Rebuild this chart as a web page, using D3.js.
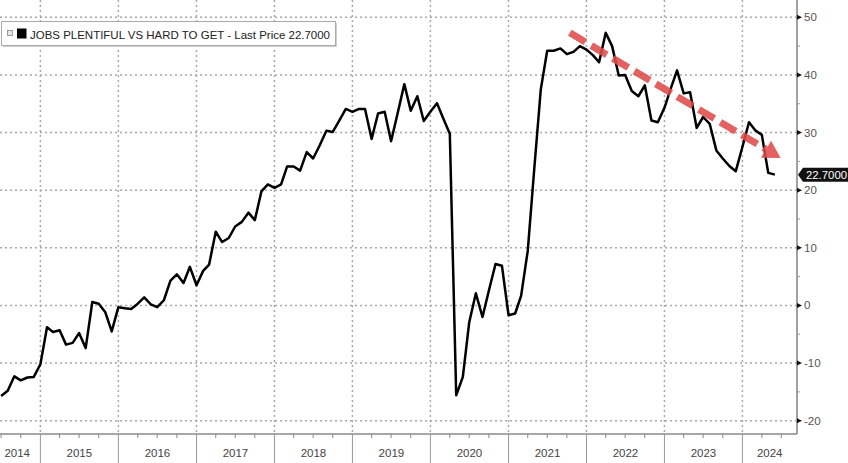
<!DOCTYPE html>
<html><head><meta charset="utf-8">
<script src="https://cdn.jsdelivr.net/npm/d3@7"></script>
<style>body{margin:0;background:#fff;} svg{display:block;}</style>
</head><body><svg id="c" width="848" height="463"></svg>
<script>
// ---- data (monthly, first value = June 2014, plotted at month end) ----
const startMonth = [2014, 5];
const values = [
  -15.7,-14.8,-12.3,-13.0,-12.5,-12.4,-10.2,
  -3.8,-4.6,-4.3,-6.8,-6.5,-4.8,-7.4,0.6,0.3,-1.2,-4.5,-0.3,
  -0.5,-0.6,0.3,1.4,0.2,-0.3,0.9,4.3,5.4,3.9,6.7,3.5,
  6.0,7.1,12.8,11.0,11.7,13.7,14.5,16.1,14.8,19.8,21.0,20.4,
  21.0,24.1,24.1,23.4,26.6,25.5,27.8,30.3,30.1,32.1,34.1,33.6,
  34.1,34.1,28.9,33.3,33.6,28.5,33.4,38.4,33.8,36.3,32.0,33.6,
  35.1,32.5,29.8,-15.6,-12.4,-2.9,2.1,-2.0,2.6,7.2,6.9,-1.7,
  -1.4,1.7,9.5,23.5,37.5,44.2,44.2,44.6,43.6,44.0,45.0,44.4,
  43.4,42.2,47.3,45.0,39.9,40.0,37.2,36.3,38.2,32.1,31.8,34.3,
  37.8,40.8,36.8,37.0,30.8,32.7,31.5,26.9,25.5,24.2,23.3,27.5,
  31.8,30.4,29.6,23.0,22.7
];
const yTicks = [-20,-10,0,10,20,30,40,50];
const yMinorTicks = [-15,-5,5,15,25,35,45];
const years = [2014,2015,2016,2017,2018,2019,2020,2021,2022,2023,2024];
const seriesName = "JOBS PLENTIFUL VS HARD TO GET";
const lastPrice = 22.7;
const arrowFrom = [new Date(2021,9,15), 47.3];
const arrowTo = [new Date(2024,5,28), 25.6];

// ---- layout ----
const W = 848, H = 463, plotRight = 797, plotBottom = 434;
const font = "'Liberation Sans', Arial, sans-serif";
const svg = d3.select("#c");

const x = d3.scaleTime()
  .domain([new Date(2015,0,1), new Date(2024,0,1)])
  .range([40.4, 742.4]);
const y = d3.scaleLinear().domain([-20, 50]).range([420.7, 17.3]);

const data = values.map((v, i) => ({
  date: d3.timeMonth.offset(new Date(startMonth[0], startMonth[1] + 1, 1), i),
  value: v
}));

svg.append("defs").append("clipPath").attr("id", "clip")
  .append("rect").attr("x", 0).attr("y", 0).attr("width", plotRight).attr("height", plotBottom);

// grid
const grid = svg.append("g").attr("stroke", "#a8a8a8").attr("stroke-width", 1.5)
  .attr("stroke-dasharray", "2,3");
grid.selectAll(".h").data(yTicks).join("line")
  .attr("x1", 0).attr("x2", plotRight)
  .attr("y1", d => y(d)).attr("y2", d => y(d));
grid.selectAll(".v").data(years.filter(yr => x(new Date(yr,0,1)) > 0)).join("line")
  .attr("x1", d => x(new Date(d,0,1))).attr("x2", d => x(new Date(d,0,1)))
  .attr("y1", 0).attr("y2", plotBottom);

// axes lines
svg.append("line").attr("x1", plotRight).attr("x2", plotRight).attr("y1", 0).attr("y2", plotBottom)
  .attr("stroke", "#8a8a8a").attr("stroke-width", 1.6);
svg.append("line").attr("x1", 0).attr("x2", plotRight).attr("y1", plotBottom).attr("y2", plotBottom)
  .attr("stroke", "#8a8a8a").attr("stroke-width", 1.6);

// right axis ticks + labels
svg.append("g").selectAll("path").data(yTicks).join("path")
  .attr("d", d => `M${plotRight},${y(d)-2.5}L${plotRight+5},${y(d)}L${plotRight},${y(d)+2.5}Z`)
  .attr("fill", "#111");
svg.append("g").selectAll("line").data(yMinorTicks).join("line")
  .attr("x1", plotRight).attr("x2", plotRight + 3)
  .attr("y1", d => y(d)).attr("y2", d => y(d))
  .attr("stroke", "#999").attr("stroke-width", 1);
svg.append("g").selectAll("text").data(yTicks).join("text")
  .attr("x", plotRight + 7).attr("y", d => y(d))
  .attr("dominant-baseline", "central")
  .attr("font-family", font).attr("font-size", 11.5).attr("fill", "#555")
  .text(d => d);

// bottom axis: quarter ticks, year separators, labels
const quarters = d3.timeMonth.every(3).range(new Date(2014,6,1), new Date(2024,9,1))
  .filter(d => d.getMonth() !== 0 && x(d) > 0 && x(d) < plotRight);
svg.append("g").selectAll("line").data(quarters).join("line")
  .attr("x1", d => x(d)).attr("x2", d => x(d))
  .attr("y1", plotBottom).attr("y2", plotBottom + 4)
  .attr("stroke", "#888").attr("stroke-width", 1);
svg.append("g").selectAll("line").data(years.slice(1)).join("line")
  .attr("x1", d => x(new Date(d,0,1))).attr("x2", d => x(new Date(d,0,1)))
  .attr("y1", plotBottom).attr("y2", H)
  .attr("stroke", "#999").attr("stroke-width", 1);
svg.append("g").selectAll("text").data(years).join("text")
  .attr("x", d => {
    const a = Math.max(0, x(new Date(d,0,1)));
    const b = Math.min(plotRight, x(new Date(d+1,0,1)));
    return (a + b) / 2 - (a === 0 ? 3 : 0);
  })
  .attr("y", 453).attr("text-anchor", "middle").attr("dominant-baseline", "central")
  .attr("font-family", font).attr("font-size", 11.5).attr("fill", "#444")
  .text(d => d);

// series line
svg.append("path").datum(data)
  .attr("clip-path", "url(#clip)")
  .attr("d", d3.line().x(d => x(d.date)).y(d => y(d.value)))
  .attr("fill", "none").attr("stroke", "#000").attr("stroke-width", 2.5)
  .attr("stroke-linejoin", "round");

// red dashed arrow annotation
const ax0 = x(arrowFrom[0]), ay0 = y(arrowFrom[1]);
const ax1 = x(arrowTo[0]), ay1 = y(arrowTo[1]);
const len = Math.hypot(ax1 - ax0, ay1 - ay0);
const ux = (ax1 - ax0) / len, uy = (ay1 - ay0) / len;
const headLen = 17, headHalf = 10;
const bx = ax1 - ux * headLen, by = ay1 - uy * headLen;
const arrow = svg.append("g").attr("opacity", 0.88);
arrow.append("line")
  .attr("x1", ax0).attr("y1", ay0).attr("x2", bx).attr("y2", by)
  .attr("stroke", "#e04c4c").attr("stroke-width", 7)
  .attr("stroke-dasharray", "18,7");
arrow.append("path")
  .attr("d", `M${ax1},${ay1}L${bx - uy*headHalf},${by + ux*headHalf}L${bx + uy*headHalf},${by - ux*headHalf}Z`)
  .attr("fill", "#e04c4c");

// last price tag
const ty = y(lastPrice);
svg.append("path")
  .attr("d", `M${plotRight+1},${ty}L${plotRight+6},${ty-7}L${W},${ty-7}L${W},${ty+7}L${plotRight+6},${ty+7}Z`)
  .attr("fill", "#111");
svg.append("text").attr("x", plotRight + 9).attr("y", ty)
  .attr("dominant-baseline", "central")
  .attr("font-family", font).attr("font-size", 11).attr("fill", "#fff")
  .attr("textLength", 41).attr("lengthAdjust", "spacingAndGlyphs")
  .text(lastPrice.toFixed(4));

// legend
const lg = svg.append("g");
lg.append("rect").attr("x", 3).attr("y", 23).attr("width", 334).attr("height", 24).attr("fill", "#cfcfcf");
lg.append("rect").attr("x", 1.5).attr("y", 21.5).attr("width", 334).attr("height", 24)
  .attr("fill", "#fff").attr("stroke", "#aaa").attr("stroke-width", 1);
lg.append("rect").attr("x", 7.5).attr("y", 30.5).attr("width", 5).attr("height", 5)
  .attr("fill", "#e6e6e6").attr("stroke", "#888").attr("stroke-width", 0.8);
lg.append("rect").attr("x", 17).attr("y", 28.5).attr("width", 9.5).attr("height", 10).attr("fill", "#000");
lg.append("text").attr("x", 30).attr("y", 38.5)
  .attr("font-family", font).attr("font-size", 11.5).attr("fill", "#222")
  .attr("textLength", 300).attr("lengthAdjust", "spacingAndGlyphs")
  .text(`${seriesName} - Last Price ${lastPrice.toFixed(4)}`);
</script>
</body></html>
